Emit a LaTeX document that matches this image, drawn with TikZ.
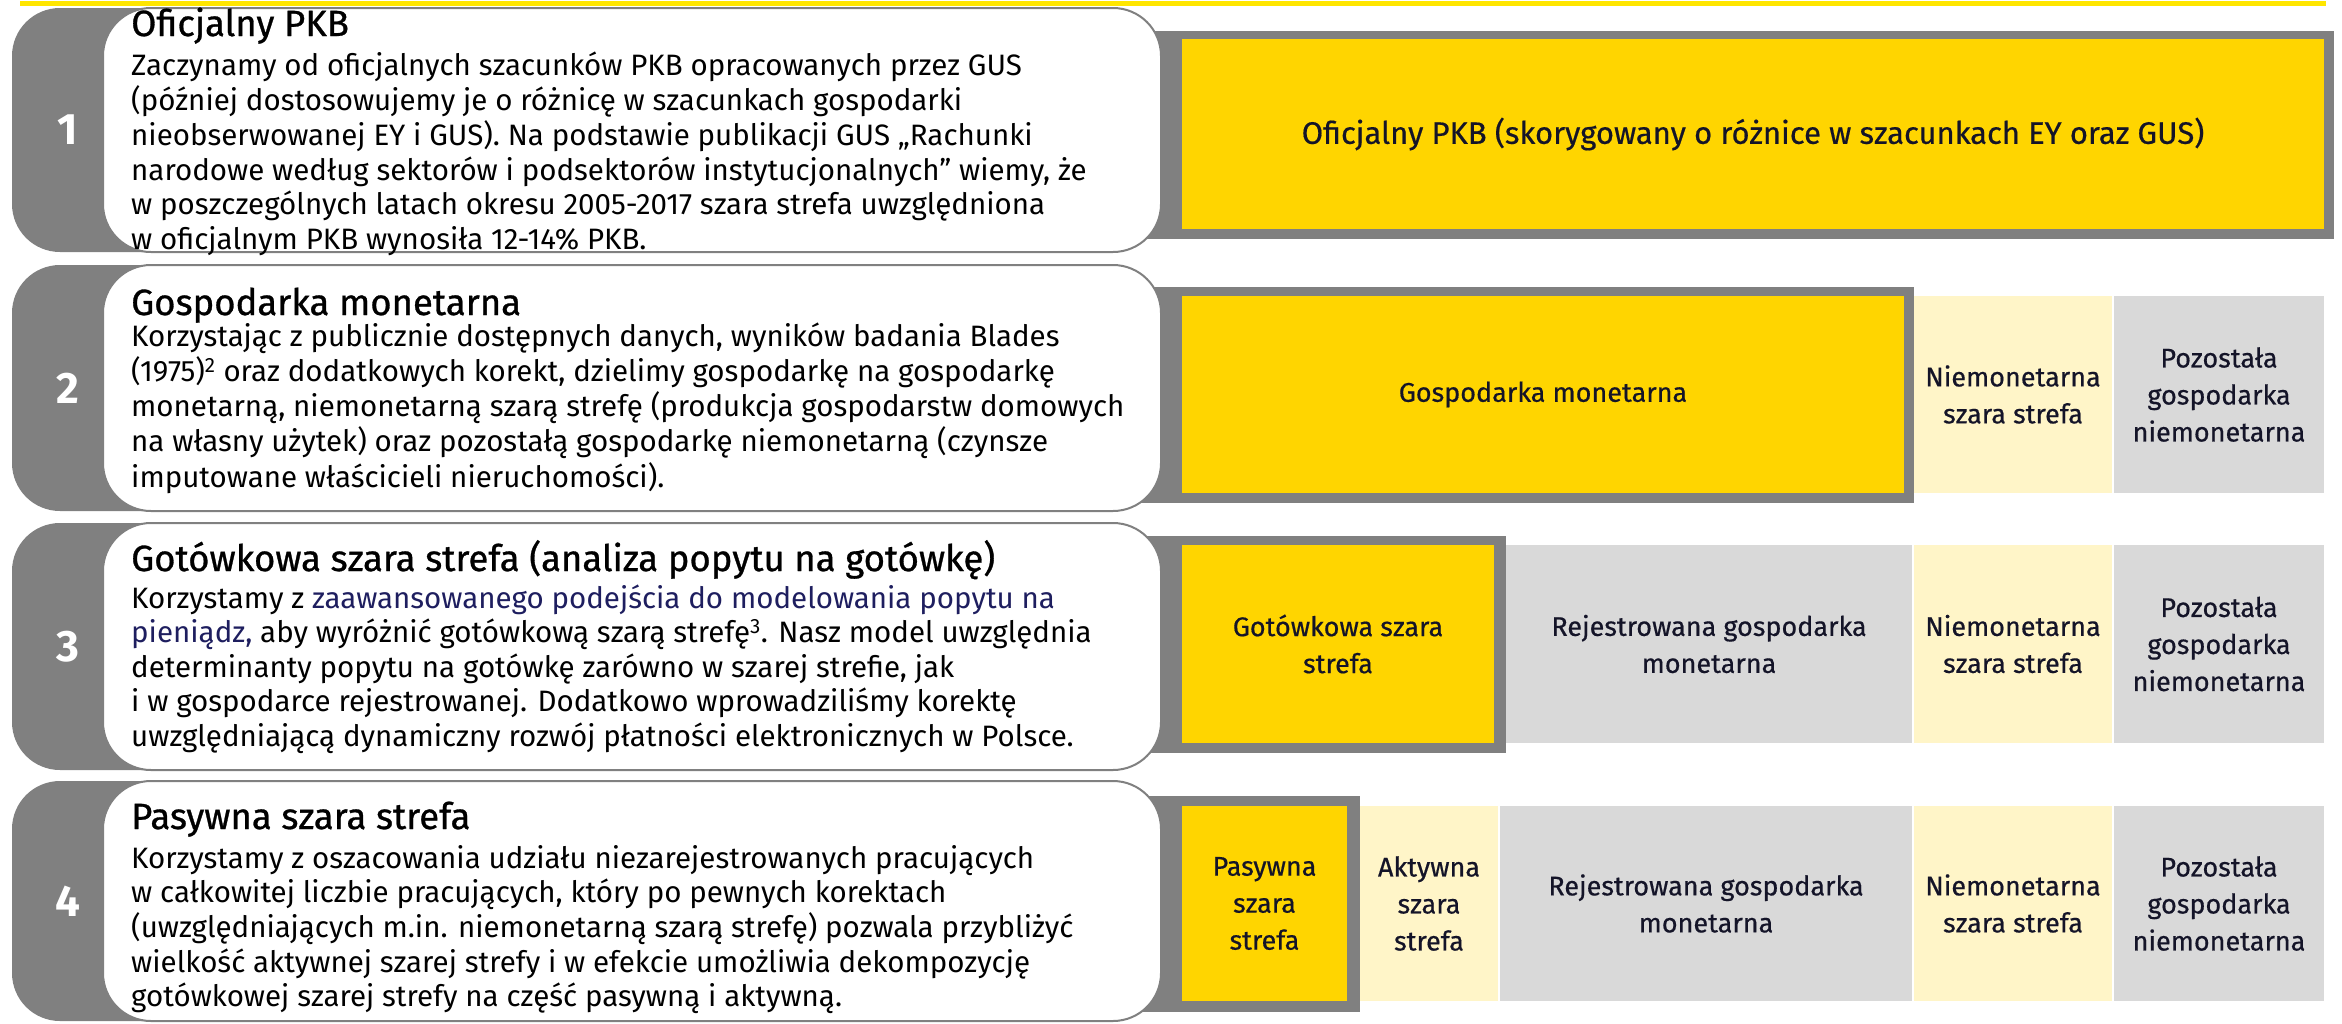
\documentclass[tikz,border=0pt]{standalone}
\usepackage{fontspec}
\setmainfont{Fira Sans}
\newfontfamily\headfam{Fira Sans}[FakeBold=0.8]
\newfontfamily\labfam{Fira Sans}[FakeBold=0.5]
\usepackage{xcolor}
\usepackage{tikz}

\definecolor{eyyellow}{RGB}{255,230,0}
\definecolor{boxyellow}{RGB}{255,213,0}
\definecolor{paleyellow}{RGB}{255,245,200}
\definecolor{palegrey}{RGB}{217,217,217}
\definecolor{tabgrey}{RGB}{128,128,128}
\definecolor{labelink}{RGB}{20,20,40}
\definecolor{navyink}{RGB}{30,30,95}

\newcommand{\bodyfont}{\fontsize{29.5}{34.5}\selectfont}
\newcommand{\headfont}{\headfam\fontsize{36.5}{40}\selectfont}
\newcommand{\labfont}{\labfam\fontsize{27}{37}\selectfont}
\newcommand{\numfont}{\fontsize{44}{44}\selectfont\bfseries}

\begin{document}
\begin{tikzpicture}[x=1pt, y=-1pt,
        card/.style={draw=tabgrey, line width=2pt, fill=white, rounded corners=48pt},
        part/.style={inner sep=0, outer sep=0, align=center, font=\labfont, text=labelink},
        head/.style={anchor=base west, inner sep=0, font=\headfont},
        body/.style={anchor=base west, inner sep=0, font=\bodyfont},
    ]
            \useasboundingbox (0,0) rectangle (2342,1023);
            \draw[eyyellow, line width=5pt] (20,3) -- (2326,3);

            % grey frames behind the highlighted parts
            \fill[tabgrey] (1140,31) rectangle (2334,239);
            \fill[tabgrey] (1140,287) rectangle (1914,503);
            \fill[tabgrey] (1140,536) rectangle (1506,753);
            \fill[tabgrey] (1140,796) rectangle (1360,1012);

            \foreach \ya/\yb/\num in {8/252/1, 265/511/2, 523/770/3, 781/1021/4} {
                \fill[tabgrey, rounded corners=48pt] (12,\ya) rectangle (400,\yb);
                \draw[card] (103,\ya) rectangle (1161,\yb);
                \node[font=\numfont, text=white, inner sep=0] (Num\num) at (68,{(\ya+\yb)/2}) {\num};
            }

            % 1
            \node[head] (Head1) at (131,36) {Oficjalny PKB};
            \node[body] (Text1) at (131,75) {\begin{tabular}[t]{@{}l@{}}
                Zaczynamy od oficjalnych szacunków PKB opracowanych przez GUS\\
                (później dostosowujemy je o różnicę w szacunkach gospodarki\\
                nieobserwowanej EY i GUS). Na podstawie publikacji GUS „Rachunki\\
                narodowe według sektorów i podsektorów instytucjonalnych” wiemy, że\\
                w poszczególnych latach okresu 2005-2017 szara strefa uwzględniona\\
                w oficjalnym PKB wynosiła 12-14\% PKB.
            \end{tabular}};
            \node[part, font=\labfam\fontsize{31}{37}\selectfont, fill=boxyellow, minimum width=1142, minimum height=190] (PKB1) at (1753,134)
                {Oficjalny PKB (skorygowany o różnice w szacunkach EY oraz GUS)};

            % 2
            \node[head] (Head2) at (131,315) {Gospodarka monetarna};
            \node[body] (Text2) at (131,346) {\begin{tabular}[t]{@{}l@{}}
                Korzystając z publicznie dostępnych danych, wyników badania Blades\\
                (1975)\textsuperscript{2} oraz dodatkowych korekt, dzielimy gospodarkę na gospodarkę\\
                monetarną, niemonetarną szarą strefę (produkcja gospodarstw domowych\\
                na własny użytek) oraz pozostałą gospodarkę niemonetarną (czynsze\\
                imputowane właścicieli nieruchomości).
            \end{tabular}};
            \node[part, fill=boxyellow, minimum width=722, minimum height=197] (Mon2) at (1543,394.5) {Gospodarka monetarna};
            \node[part, fill=paleyellow, minimum width=198, minimum height=197] (Niem2) at (2013,394.5) {Niemonetarna\\szara strefa};
            \node[part, fill=palegrey, minimum width=210, minimum height=197] (Poz2) at (2219,394.5) {Pozostała\\gospodarka\\niemonetarna};

            % 3
            \node[head] (Head3) at (131,571) {Gotówkowa szara strefa (analiza popytu na gotówkę)};
            \node[body] (Text3) at (131,608) {\begin{tabular}[t]{@{}l@{}}
                Korzystamy z \textcolor{navyink}{zaawansowanego podejścia do modelowania popytu na}\\
                \textcolor{navyink}{pieniądz,} aby wyróżnić gotówkową szarą strefę\textsuperscript{3}. Nasz model uwzględnia\\
                determinanty popytu na gotówkę zarówno w szarej strefie, jak\\
                i w gospodarce rejestrowanej. Dodatkowo wprowadziliśmy korektę\\
                uwzględniającą dynamiczny rozwój płatności elektronicznych w Polsce.
            \end{tabular}};
            \node[part, fill=boxyellow, minimum width=312, minimum height=198] (Got3) at (1338,644) {Gotówkowa szara\\strefa};
            \node[part, fill=palegrey, minimum width=406, minimum height=198] (Rej3) at (1709,644) {Rejestrowana gospodarka\\monetarna};
            \node[part, fill=paleyellow, minimum width=198, minimum height=198] (Niem3) at (2013,644) {Niemonetarna\\szara strefa};
            \node[part, fill=palegrey, minimum width=210, minimum height=198] (Poz3) at (2219,644) {Pozostała\\gospodarka\\niemonetarna};

            % 4
            \node[head] (Head4) at (131,829) {Pasywna szara strefa};
            \node[body] (Text4) at (131,868) {\begin{tabular}[t]{@{}l@{}}
                Korzystamy z oszacowania udziału niezarejestrowanych pracujących\\
                w całkowitej liczbie pracujących, który po pewnych korektach\\
                (uwzględniających m.in. niemonetarną szarą strefę) pozwala przybliżyć\\
                wielkość aktywnej szarej strefy i w efekcie umożliwia dekompozycję\\
                gotówkowej szarej strefy na część pasywną i aktywną.
            \end{tabular}};
            \node[part, fill=boxyellow, minimum width=165, minimum height=195] (Pas4) at (1264.5,903.5) {Pasywna\\szara\\strefa};
            \node[part, fill=paleyellow, minimum width=138, minimum height=195] (Akt4) at (1429,903.5) {Aktywna\\szara\\strefa};
            \node[part, fill=palegrey, minimum width=412, minimum height=195] (Rej4) at (1706,903.5) {Rejestrowana gospodarka\\monetarna};
            \node[part, fill=paleyellow, minimum width=198, minimum height=195] (Niem4) at (2013,903.5) {Niemonetarna\\szara strefa};
            \node[part, fill=palegrey, minimum width=210, minimum height=195] (Poz4) at (2219,903.5) {Pozostała\\gospodarka\\niemonetarna};
        \end{tikzpicture}
\end{document}
